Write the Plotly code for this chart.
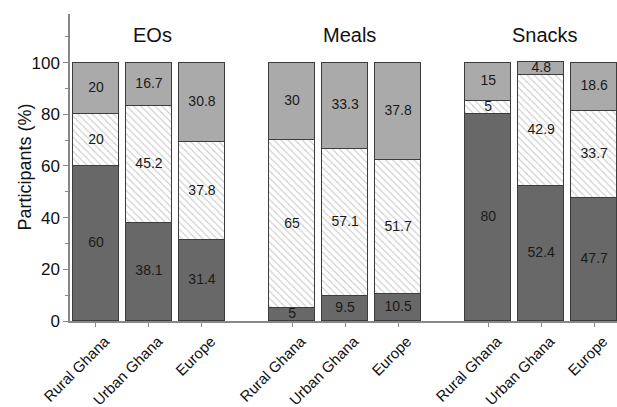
import plotly.graph_objects as go

groups = ["EOs", "Meals", "Snacks"]
categories = ["Rural Ghana", "Urban Ghana", "Europe"]
bottom_vals = [60, 38.1, 31.4, 5, 9.5, 10.5, 80, 52.4, 47.7]
middle_vals = [20, 45.2, 37.8, 65, 57.1, 51.7, 5, 42.9, 33.7]
top_vals = [20, 16.7, 30.8, 30, 33.3, 37.8, 15, 4.8, 18.6]
y_ticks = [0, 20, 40, 60, 80, 100]

FONT = "Liberation Sans, Arial, sans-serif"
group_step = 3.7
xpos = [g * group_step + c for g in range(len(groups)) for c in range(len(categories))]
xlabels = [c for g in groups for c in categories]

outline = dict(color="#3c3c3c", width=1)
bw = 0.87

fig = go.Figure()
fig.add_trace(go.Bar(x=xpos, y=bottom_vals, width=bw,
                     marker=dict(color="#686868", line=outline), showlegend=False))
fig.add_trace(go.Bar(x=xpos, y=middle_vals, width=bw,
                     marker=dict(color="white", line=outline,
                                 pattern=dict(shape="\\", fgcolor="#9c9c9c", bgcolor="white",
                                              size=5, solidity=0.22)),
                     showlegend=False))
fig.add_trace(go.Bar(x=xpos, y=top_vals, width=bw,
                     marker=dict(color="#aaaaaa", line=outline), showlegend=False))

# segment labels centred in each segment
lx, ly, lt = [], [], []
for i, x in enumerate(xpos):
    b, m, t = bottom_vals[i], middle_vals[i], top_vals[i]
    for base, v in ((0, b), (b, m), (b + m, t)):
        lx.append(x)
        ly.append(base + v / 2)
        lt.append(f"{v:g}")
fig.add_trace(go.Scatter(x=lx, y=ly, text=lt, mode="text",
                         textfont=dict(family=FONT, size=14, color="#1a1a1a"),
                         showlegend=False, hoverinfo="skip"))

for g, name in enumerate(groups):
    fig.add_annotation(x=g * group_step + 1, y=110.5, xref="x", yref="y", text=name,
                       xshift=4, showarrow=False, font=dict(family=FONT, size=20, color="#111"))

fig.add_annotation(x=-0.084, y=0.5, xref="paper", yref="paper", text="Participants (%)",
                   textangle=-90, xanchor="center", yanchor="middle",
                   showarrow=False, font=dict(family=FONT, size=18, color="#111"))

fig.update_layout(
    width=617, height=407,
    margin=dict(l=70, r=0, t=14, b=86, autoexpand=False),
    barmode="stack", bargap=0,
    plot_bgcolor="white", paper_bgcolor="white",
    font=dict(family=FONT, color="#111"),
    xaxis=dict(range=[-0.49, 9.83], tickvals=xpos, ticktext=xlabels, tickangle=-45,
               showline=True, linecolor="#888888", linewidth=1.5, ticks="outside",
               ticklen=4, tickcolor="#888888", showgrid=False, zeroline=False,
               automargin=False, ticklabelshift=9, ticklabelstandoff=0,
               tickfont=dict(size=15, color="#111")),
    yaxis=dict(range=[0, 118.8], tickvals=y_ticks, showline=True, linecolor="#888888",
               linewidth=1.5, ticks="outside", ticklen=5, tickcolor="#888888",
               showgrid=False, zeroline=False, automargin=False,
               tickfont=dict(size=17, color="#111"),
               minor=dict(tickvals=[10, 30, 50, 70, 90, 110], ticks="outside", ticklen=3,
                          tickcolor="#888888")),
)

fig.write_html("out.html")
